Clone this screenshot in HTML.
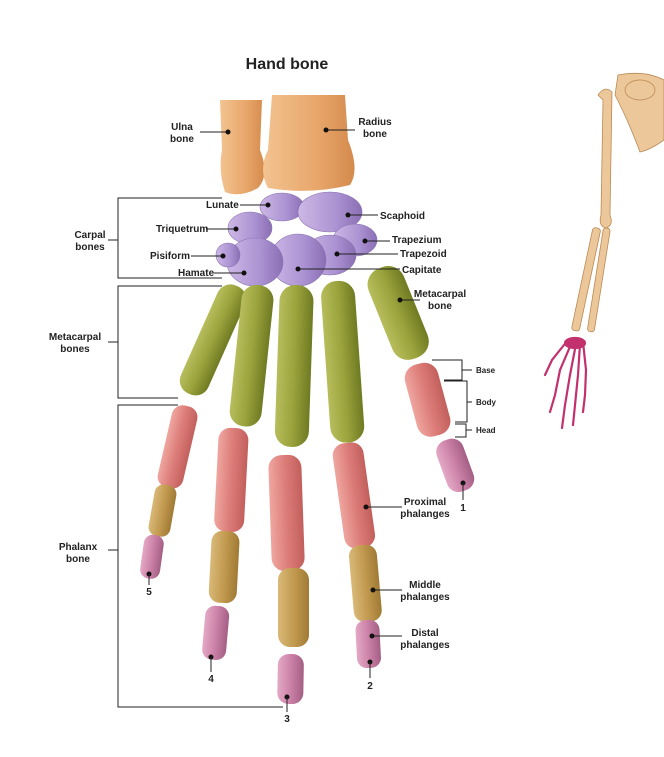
<!DOCTYPE html>
<html><head><meta charset="utf-8"><style>
html,body{margin:0;padding:0;background:#fff}
svg{display:block}
text{font-family:"Liberation Sans Narrow","Liberation Sans",sans-serif;font-weight:bold;font-size:10px;fill:#222}
.l{stroke:#222;stroke-width:1;fill:none}
.d{fill:#111}
</style></head><body>
<svg width="664" height="757" viewBox="0 0 664 757" xmlns="http://www.w3.org/2000/svg">
<defs>
<linearGradient id="or" x1="0" x2="1"><stop offset="0" stop-color="#f2c391"/><stop offset="0.6" stop-color="#e8a66a"/><stop offset="1" stop-color="#d48a4c"/></linearGradient>
<linearGradient id="gr" x1="0" x2="1"><stop offset="0" stop-color="#b7bd5c"/><stop offset="0.5" stop-color="#9aa33c"/><stop offset="1" stop-color="#6f7a22"/></linearGradient>
<linearGradient id="sa" x1="0" x2="1"><stop offset="0" stop-color="#efa6a0"/><stop offset="0.5" stop-color="#dc7c78"/><stop offset="1" stop-color="#c25f5c"/></linearGradient>
<linearGradient id="tn" x1="0" x2="1"><stop offset="0" stop-color="#d9b978"/><stop offset="0.5" stop-color="#c29a50"/><stop offset="1" stop-color="#a07a34"/></linearGradient>
<linearGradient id="pk" x1="0" x2="1"><stop offset="0" stop-color="#e4a9c6"/><stop offset="0.5" stop-color="#cc82a8"/><stop offset="1" stop-color="#a45e84"/></linearGradient>
<linearGradient id="pu" x1="0" x2="1"><stop offset="0" stop-color="#cdb8e6"/><stop offset="0.6" stop-color="#ab92d2"/><stop offset="1" stop-color="#8a6fb4"/></linearGradient>
</defs>

<text x="287" y="69" text-anchor="middle" style="font-family:'Liberation Sans',sans-serif;font-size:16px">Hand  bone</text>

<path d="M220,100 L262,100 L260,150 Q270,175 258,188 Q240,198 225,192 Q218,170 222,150 Z" fill="url(#or)"/>
<path d="M272,95 L345,95 L348,140 Q360,170 350,185 Q310,195 268,188 Q258,170 268,150 Z" fill="url(#or)"/>

<g fill="url(#pu)" stroke="#8b72b0" stroke-width="0.6">
<ellipse cx="282" cy="207" rx="22" ry="14"/>
<ellipse cx="330" cy="212" rx="32" ry="20"/>
<ellipse cx="250" cy="228" rx="22" ry="16"/>
<ellipse cx="355" cy="240" rx="22" ry="16"/>
<ellipse cx="330" cy="255" rx="26" ry="20"/>
<ellipse cx="298" cy="260" rx="28" ry="26"/>
<ellipse cx="255" cy="262" rx="28" ry="24"/>
<ellipse cx="228" cy="255" rx="12" ry="12"/>
</g>

<g>
<g fill="url(#gr)">
<rect x="-15" y="0" width="30" height="118" rx="14" transform="translate(237,286) rotate(24)"/>
<rect x="-15" y="0" width="32" height="142" rx="15" transform="translate(258,285) rotate(6)"/>
<rect x="-16" y="0" width="34" height="162" rx="16" transform="translate(296,285) rotate(2)"/>
<rect x="-16" y="0" width="34" height="162" rx="16" transform="translate(336,281) rotate(-4)"/>
<rect x="-19" y="0" width="38" height="97" rx="17" transform="translate(380,268) rotate(-22)"/>
</g>
<g fill="url(#sa)">
<rect x="-13" y="0" width="26" height="84" rx="11" transform="translate(187,406) rotate(13)"/>
<rect x="-15" y="0" width="30" height="104" rx="12" transform="translate(234,428) rotate(3)"/>
<rect x="-16" y="0" width="33" height="116" rx="13" transform="translate(284,455) rotate(-2)"/>
<rect x="-15" y="0" width="31" height="106" rx="12" transform="translate(346,443) rotate(-8)"/>
<rect x="-17" y="0" width="34" height="74" rx="14" transform="translate(418,364) rotate(-15)"/>
</g>
<g fill="url(#tn)">
<rect x="-11" y="0" width="22" height="52" rx="9" transform="translate(167,485) rotate(10)"/>
<rect x="-14" y="0" width="28" height="72" rx="11" transform="translate(226,531) rotate(3)"/>
<rect x="-15" y="0" width="31" height="79" rx="12" transform="translate(293,568) rotate(0)"/>
<rect x="-14" y="0" width="28" height="77" rx="11" transform="translate(362,545) rotate(-5)"/>
</g>
<g fill="url(#pk)">
<rect x="-10" y="0" width="20" height="44" rx="9" transform="translate(155,535) rotate(8)"/>
<rect x="-12" y="0" width="24" height="54" rx="10" transform="translate(218,606) rotate(5)"/>
<rect x="-13" y="0" width="26" height="50" rx="11" transform="translate(291,654) rotate(1)"/>
<rect x="-12" y="0" width="24" height="48" rx="10" transform="translate(367,620) rotate(-3)"/>
<rect x="-14" y="0" width="28" height="54" rx="12" transform="translate(446,440) rotate(-20)"/>
</g>
</g>

<path class="l" d="M222,198 H118 V278 H222 M118,240 H108"/>
<path class="l" d="M222,286 H118 V398 H178 M118,342 H108"/>
<path class="l" d="M178,405 H118 V707 H283 M118,550 H108"/>
<text x="90" y="238" text-anchor="middle">Carpal</text><text x="90" y="250" text-anchor="middle">bones</text>
<text x="75" y="340" text-anchor="middle">Metacarpal</text><text x="75" y="352" text-anchor="middle">bones</text>
<text x="78" y="550" text-anchor="middle">Phalanx</text><text x="78" y="562" text-anchor="middle">bone</text>

<text x="182" y="130" text-anchor="middle">Ulna</text><text x="182" y="142" text-anchor="middle">bone</text>
<path class="l" d="M200,132 H228"/><circle class="d" cx="228" cy="132" r="2.5"/>
<text x="375" y="125" text-anchor="middle">Radius</text><text x="375" y="137" text-anchor="middle">bone</text>
<path class="l" d="M326,130 H355"/><circle class="d" cx="326" cy="130" r="2.5"/>
<text x="206" y="208">Lunate</text><path class="l" d="M240,205 H268"/><circle class="d" cx="268" cy="205" r="2.5"/>
<text x="156" y="232">Triquetrum</text><path class="l" d="M206,229 H236"/><circle class="d" cx="236" cy="229" r="2.5"/>
<text x="150" y="259">Pisiform</text><path class="l" d="M191,256 H223"/><circle class="d" cx="223" cy="256" r="2.5"/>
<text x="178" y="276">Hamate</text><path class="l" d="M214,273 H244"/><circle class="d" cx="244" cy="273" r="2.5"/>
<text x="380" y="219">Scaphoid</text><path class="l" d="M348,215 H378"/><circle class="d" cx="348" cy="215" r="2.5"/>
<text x="392" y="243">Trapezium</text><path class="l" d="M365,241 H390"/><circle class="d" cx="365" cy="241" r="2.5"/>
<text x="400" y="257">Trapezoid</text><path class="l" d="M337,254 H398"/><circle class="d" cx="337" cy="254" r="2.5"/>
<text x="402" y="273">Capitate</text><path class="l" d="M298,269 H400"/><circle class="d" cx="298" cy="269" r="2.5"/>
<text x="440" y="297" text-anchor="middle">Metacarpal</text><text x="440" y="309" text-anchor="middle">bone</text>
<path class="l" d="M400,300 H420"/><circle class="d" cx="400" cy="300" r="2.5"/>
<path class="l" d="M432,360 H462 V380 H444 M462,370 H472"/><text x="476" y="373" style="font-size:8px">Base</text>
<path class="l" d="M444,381 H467 V422 H455 M467,402 H472"/><text x="476" y="405" style="font-size:8px">Body</text>
<path class="l" d="M455,424 H466 V437 H455 M466,430 H472"/><text x="476" y="433" style="font-size:8px">Head</text>
<text x="425" y="505" text-anchor="middle">Proximal</text><text x="425" y="517" text-anchor="middle">phalanges</text>
<path class="l" d="M366,507 H402"/><circle class="d" cx="366" cy="507" r="2.5"/>
<text x="425" y="588" text-anchor="middle">Middle</text><text x="425" y="600" text-anchor="middle">phalanges</text>
<path class="l" d="M373,590 H402"/><circle class="d" cx="373" cy="590" r="2.5"/>
<text x="425" y="636" text-anchor="middle">Distal</text><text x="425" y="648" text-anchor="middle">phalanges</text>
<path class="l" d="M372,636 H402"/><circle class="d" cx="372" cy="636" r="2.5"/>
<circle class="d" cx="463" cy="483" r="2.5"/><path class="l" d="M463,483 V500"/><text x="463" y="511" text-anchor="middle">1</text>
<circle class="d" cx="370" cy="662" r="2.5"/><path class="l" d="M370,662 V678"/><text x="370" y="689" text-anchor="middle">2</text>
<circle class="d" cx="287" cy="697" r="2.5"/><path class="l" d="M287,697 V712"/><text x="287" y="722" text-anchor="middle">3</text>
<circle class="d" cx="211" cy="657" r="2.5"/><path class="l" d="M211,657 V672"/><text x="211" y="682" text-anchor="middle">4</text>
<circle class="d" cx="149" cy="574" r="2.5"/><path class="l" d="M149,574 V585"/><text x="149" y="595" text-anchor="middle">5</text>

<g fill="#ecc79a" stroke="#b98a55" stroke-width="0.8">
<path d="M618,75 Q645,70 664,80 L664,140 Q650,150 640,152 Q628,120 615,95 Z"/>
<path d="M598,95 Q605,85 612,92 L610,215 Q614,225 606,228 Q598,226 601,215 L603,100 Z"/>
<rect x="-4" y="0" width="8" height="105" rx="3" transform="translate(597,228) rotate(12)"/>
<rect x="-3.5" y="0" width="7" height="105" rx="3" transform="translate(607,228) rotate(9)"/>
<ellipse cx="640" cy="90" rx="15" ry="10"/>
</g>
<g stroke="#c2306e" stroke-width="2.2" fill="none" stroke-linecap="round">
<path d="M568,340 L552,360 L545,375"/>
<path d="M572,342 L560,370 L555,395 L550,412"/>
<path d="M576,344 L570,375 L565,405 L562,428"/>
<path d="M580,344 L578,375 L575,405 L573,425"/>
<path d="M583,342 L586,370 L585,395 L583,412"/>
<ellipse cx="575" cy="343" rx="10" ry="5" fill="#c2306e"/>
</g>
</svg>
</body></html>
